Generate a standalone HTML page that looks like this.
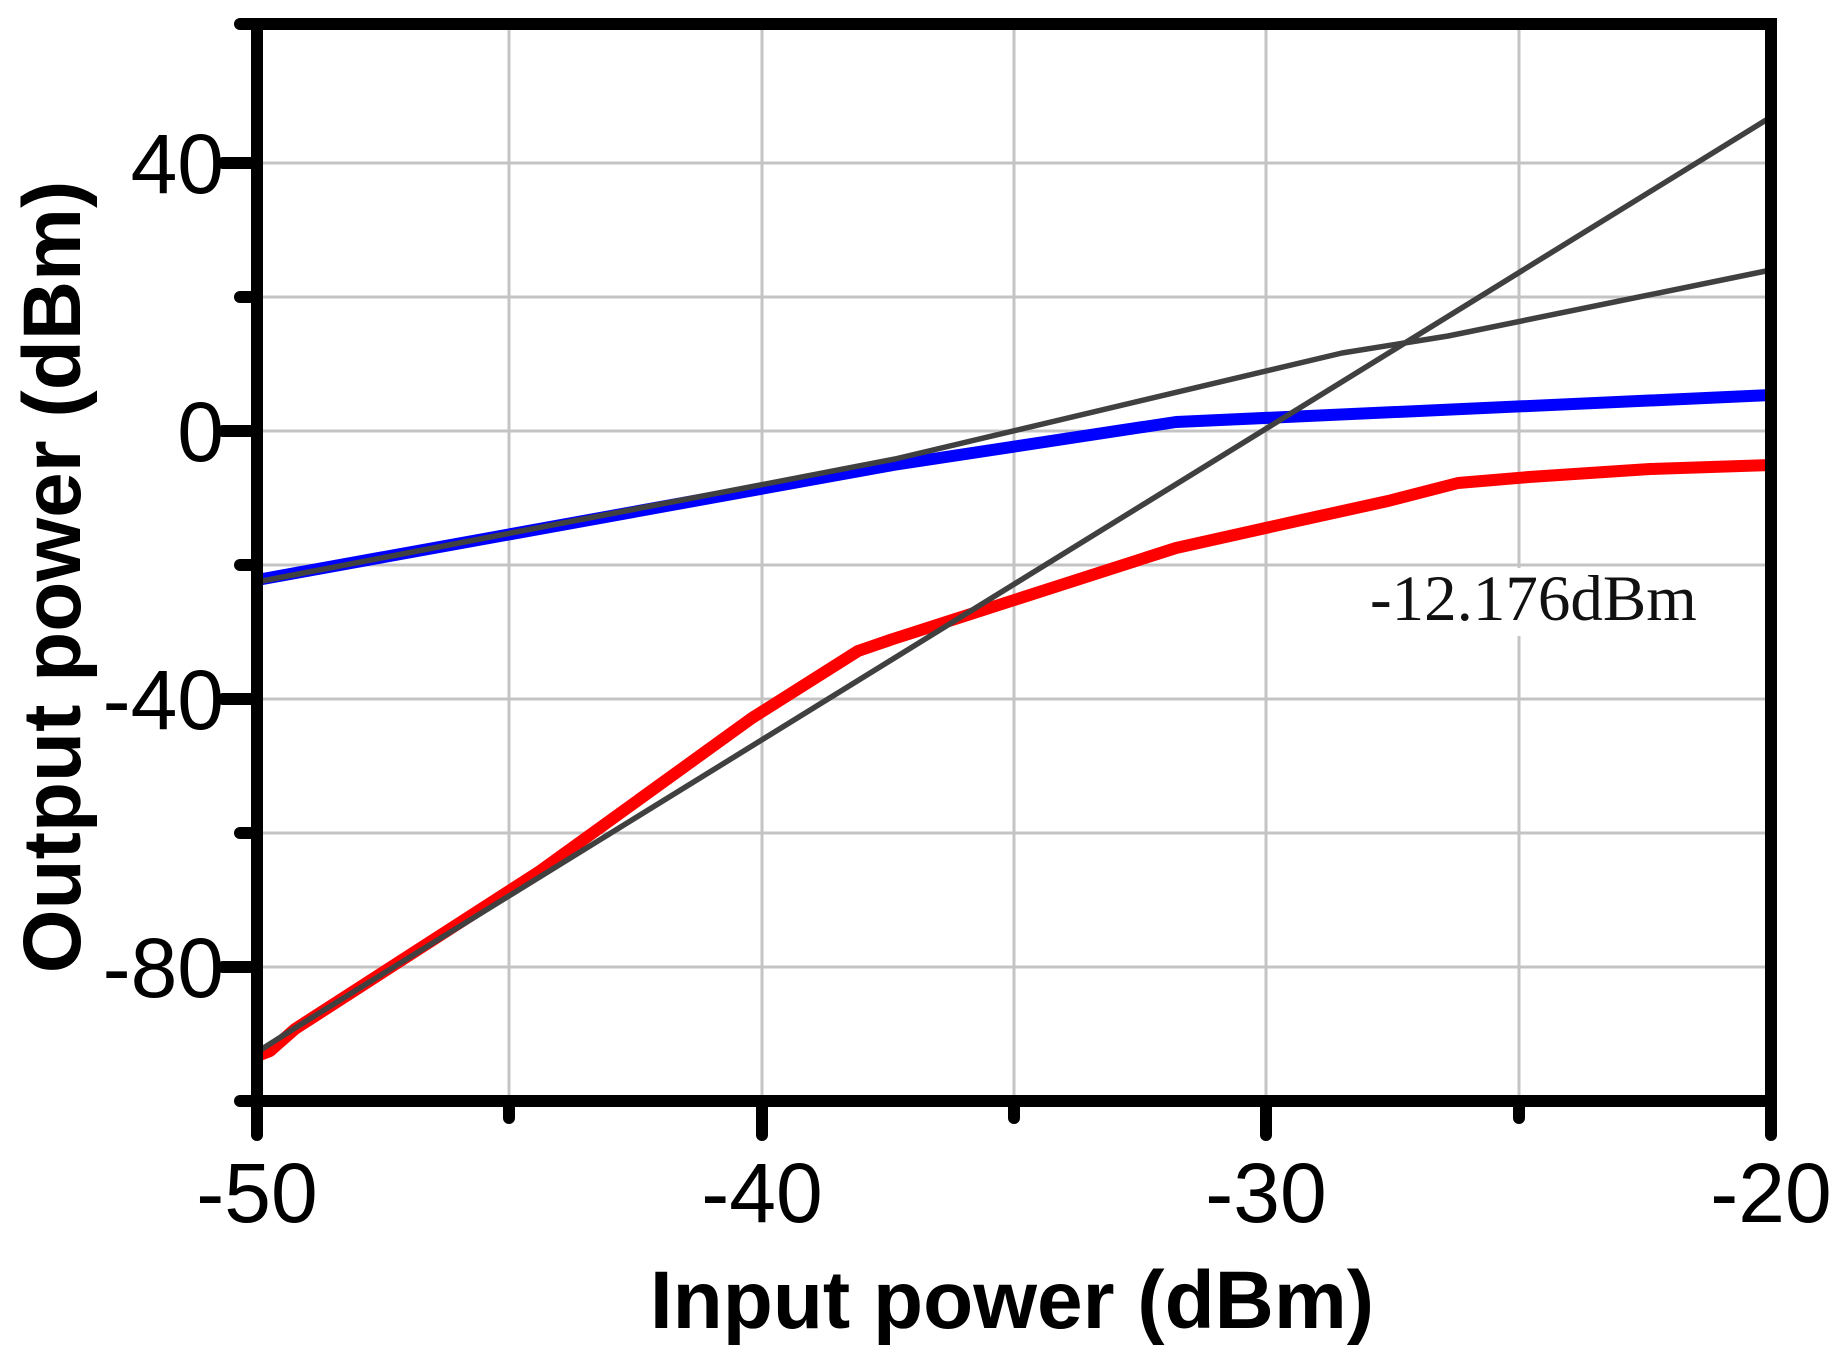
<!DOCTYPE html>
<html><head><meta charset="utf-8"><style>html,body{margin:0;padding:0;background:#fff}</style></head>
<body>
<svg width="1836" height="1350" viewBox="0 0 1836 1350" xmlns="http://www.w3.org/2000/svg">
<g stroke="#c4c4c4" stroke-width="3">
<line x1="509" y1="24" x2="509" y2="1101"/><line x1="762" y1="24" x2="762" y2="1101"/>
<line x1="1014" y1="24" x2="1014" y2="1101"/><line x1="1266" y1="24" x2="1266" y2="1101"/>
<line x1="1519" y1="24" x2="1519" y2="1101"/>
<line x1="257" y1="163" x2="1771" y2="163"/><line x1="257" y1="297" x2="1771" y2="297"/>
<line x1="257" y1="431" x2="1771" y2="431"/><line x1="257" y1="565" x2="1771" y2="565"/>
<line x1="257" y1="699" x2="1771" y2="699"/><line x1="257" y1="833" x2="1771" y2="833"/>
<line x1="257" y1="967" x2="1771" y2="967"/>
</g>
<rect x="1360" y="568" width="350" height="68" fill="#fff"/>
<text x="1370" y="620" font-family="Liberation Serif, serif" font-size="65" fill="#111">-12.176dBm</text>
<g fill="none" stroke-linejoin="round" stroke-linecap="round">
<polyline stroke="#0000ff" stroke-width="12" points="257,580 893,465 1176,422 1771,395"/>
<polyline stroke="#ff0000" stroke-width="12" points="257,1056 270,1051 295,1029 540,871 752,718 858,651 893,639 1176,548 1297,521 1388,501 1458,483 1529,477 1650,469 1771,465"/>
<polyline stroke="#404040" stroke-width="5.5" points="262,1049 295,1028 1771,117"/>
<polyline stroke="#404040" stroke-width="5.5" points="262,581 895,459 1342,353 1448,336 1766,271"/>
</g>
<g stroke="#000" stroke-width="12" stroke-linecap="round" fill="none">
<path d="M257,24 H1771 V1101 H257 Z" stroke-linecap="square"/>
<line x1="257" y1="1101" x2="257" y2="1135"/><line x1="762" y1="1101" x2="762" y2="1135"/>
<line x1="1266" y1="1101" x2="1266" y2="1135"/><line x1="1771" y1="1101" x2="1771" y2="1135"/>
<line x1="509" y1="1101" x2="509" y2="1118"/><line x1="1014" y1="1101" x2="1014" y2="1118"/><line x1="1519" y1="1101" x2="1519" y2="1118"/>
<line x1="257" y1="163" x2="223" y2="163"/><line x1="257" y1="431" x2="223" y2="431"/>
<line x1="257" y1="699" x2="223" y2="699"/><line x1="257" y1="967" x2="223" y2="967"/>
<line x1="257" y1="24" x2="240" y2="24"/><line x1="257" y1="297" x2="240" y2="297"/>
<line x1="257" y1="565" x2="240" y2="565"/><line x1="257" y1="833" x2="240" y2="833"/><line x1="257" y1="1101" x2="240" y2="1101"/>
</g>
<g font-family="Liberation Sans, sans-serif" font-size="84" fill="#000">
<text x="224" y="193" text-anchor="end">40</text>
<text x="224" y="461" text-anchor="end">0</text>
<text x="224" y="729" text-anchor="end">-40</text>
<text x="224" y="997" text-anchor="end">-80</text>
<text x="257" y="1222" text-anchor="middle">-50</text>
<text x="762" y="1222" text-anchor="middle">-40</text>
<text x="1266" y="1222" text-anchor="middle">-30</text>
<text x="1771" y="1222" text-anchor="middle">-20</text>
</g>
<text x="1012" y="1328" text-anchor="middle" font-family="Liberation Sans, sans-serif" font-weight="bold" font-size="82">Input power (dBm)</text>
<text transform="translate(80,577) rotate(-90)" text-anchor="middle" font-family="Liberation Sans, sans-serif" font-weight="bold" font-size="82">Output power (dBm)</text>
</svg>
</body></html>
